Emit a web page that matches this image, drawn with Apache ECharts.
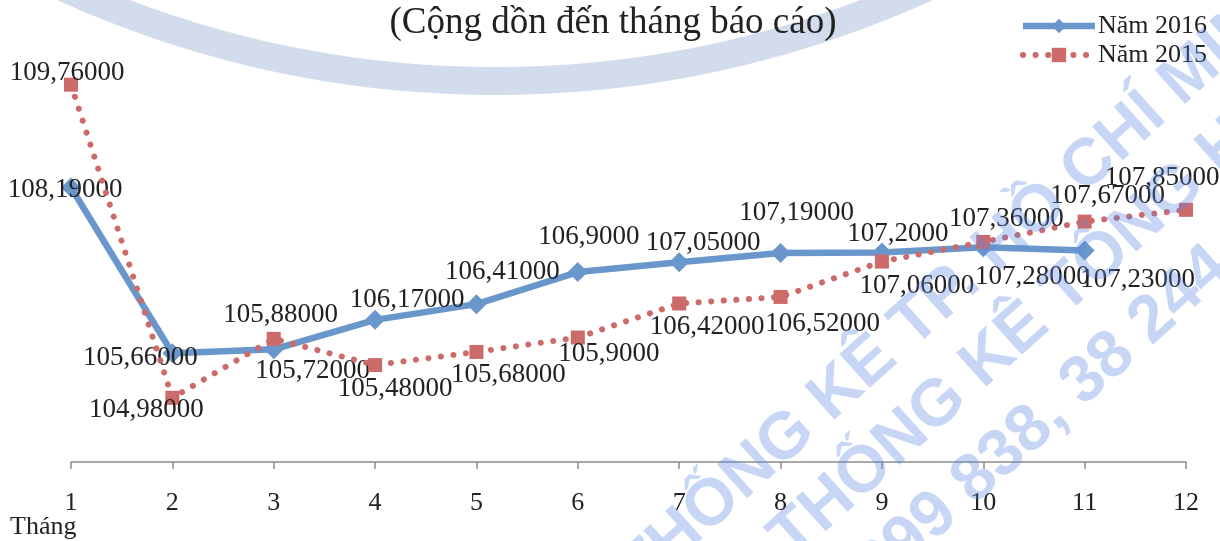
<!DOCTYPE html>
<html>
<head>
<meta charset="utf-8">
<script src="https://cdn.jsdelivr.net/npm/echarts@6/dist/echarts.min.js"></script>
<style>
html,body{margin:0;padding:0;background:#fff;}
#main{width:1220px;height:541px;}
</style>
</head>
<body>
<div id="main"></div>
<script>
// du lieu
var thang = ['1','2','3','4','5','6','7','8','9','10','11','12'];
var nam2016 = [108.19, 105.66, 105.72, 106.17, 106.41, 106.9, 107.05, 107.19, 107.2, 107.28, 107.23];
var nam2015 = [109.76, 104.98, 105.88, 105.48, 105.68, 105.9, 106.42, 106.52, 107.06, 107.36, 107.67, 107.85];

// vi tri nhan (lech so voi diem)
var lech2016 = [[-6,2],[-32,5],[39,22],[32,-20],[26,-32],[11,-35],[24,-19],[16,-40],[16,-18],[49,30],[53,29]];
var lech2015 = [[-4,-12],[-26,12],[7,-24],[20,24],[32,23],[31,16],[28,23],[42,27],[35,24],[23,-23],[23,-26],[-24,-32]];

var fontChu = '"Liberation Serif","Times New Roman",serif';
var mauMo = 'rgba(95,135,225,0.34)';   // mau chu chim (watermark)
var gocXoay = 42 * Math.PI / 180;

function dinhDang(v){
  return String(v).replace('.', ',') + '000';
}
function taoData(arr, lech){
  var d = [];
  for (var i=0;i<arr.length;i++){
    d.push({value: arr[i], label: {offset: lech[i]}});
  }
  return d;
}
// chu chim xoay cheo
function chuMo(x, y, txt, canh){
  return {
    type: 'text', x: x, y: y, rotation: gocXoay, silent: true, z: 100,
    style: {text: txt, fill: mauMo, font: 'bold 66px "Liberation Sans",Arial,sans-serif',
            align: canh, verticalAlign: 'middle'}
  };
}

var myChart = echarts.init(document.getElementById('main'));
var option = {
  animation: false,
  title: {
    text: '(Cộng dồn đến tháng báo cáo)',
    left: 608,
    textAlign: 'center',
    top: 0,
    textStyle: {
      color: '#222',
      fontFamily: fontChu,
      fontWeight: 'normal',
      fontSize: 37
    }
  },
  legend: {
    orient: 'vertical',
    right: 8,
    top: 8,
    itemWidth: 72,
    itemHeight: 18,
    itemGap: 3,
    data: ['Năm 2016', 'Năm 2015'],
    lineStyle: {width: 'inherit'},
    textStyle: {
      color: '#222',
      fontFamily: fontChu,
      fontSize: 26,
      padding: [0,0,0,-2]
    }
  },
  graphic: [
    {   // vong cung mo (watermark)
      type: 'arc',
      silent: true,
      z: -10,
      shape: {cx: 495, cy: -962, r: 1043, startAngle: 0, endAngle: Math.PI},
      style: {stroke: '#d3dcec', lineWidth: 28, fill: null}
    },
    chuMo(819, 409, 'CỤC THỐNG ', 'right'),
    chuMo(819, 409, 'KÊ TP. HỒ CHÍ MINH', 'left'),
    chuMo(971, 376, 'THỐNG ', 'right'),
    chuMo(971, 376, 'KÊ TỔNG HỢP', 'left'),
    chuMo(962, 492, '38 299 ', 'right'),
    chuMo(962, 492, '838, 38 244 588', 'left'),
    {
      type: 'text',
      left: 10,
      top: 514,
      style: {text: 'Tháng', fill: '#222', font: '26px ' + fontChu}
    }
  ],
  grid: {
    left: 71,
    right: 34,
    top: 69,
    bottom: 79
  },
  xAxis: {
    type: 'category',
    boundaryGap: false,
    data: thang,
    axisLine: {lineStyle: {color: '#8c8c8c', width: 1.5}},
    axisTick: {show: true, length: 7, lineStyle: {color: '#8c8c8c', width: 1.5}},
    axisLabel: {
      color: '#222',
      fontFamily: fontChu,
      fontSize: 26,
      margin: 28
    },
    splitLine: {show: false}
  },
  yAxis: {
    type: 'value',
    min: 104,
    max: 110,
    show: false,
    splitLine: {show: false}
  },
  series: [
    {
      name: 'Năm 2016',
      type: 'line',
      data: taoData(nam2016, lech2016),
      symbol: 'diamond',
      symbolSize: 20,
      lineStyle: {color: '#6a97cb', width: 6.5},
      itemStyle: {color: '#6a97cb'},
      label: {
        show: true,
        position: 'inside',
        color: '#222',
        fontFamily: fontChu,
        fontSize: 27,
        formatter: function(p){ return dinhDang(p.value); }
      },
      z: 3
    },
    {
      name: 'Năm 2015',
      type: 'line',
      data: taoData(nam2015, lech2015),
      symbol: 'rect',
      symbolSize: 14,
      lineStyle: {color: '#cd6a6a', width: 6, type: [0.1, 12.5], cap: 'round'},
      itemStyle: {color: '#cd6a6a'},
      label: {
        show: true,
        position: 'inside',
        color: '#222',
        fontFamily: fontChu,
        fontSize: 27,
        formatter: function(p){ return dinhDang(p.value); }
      },
      z: 4
    }
  ]
};
myChart.setOption(option);
</script>
</body>
</html>
